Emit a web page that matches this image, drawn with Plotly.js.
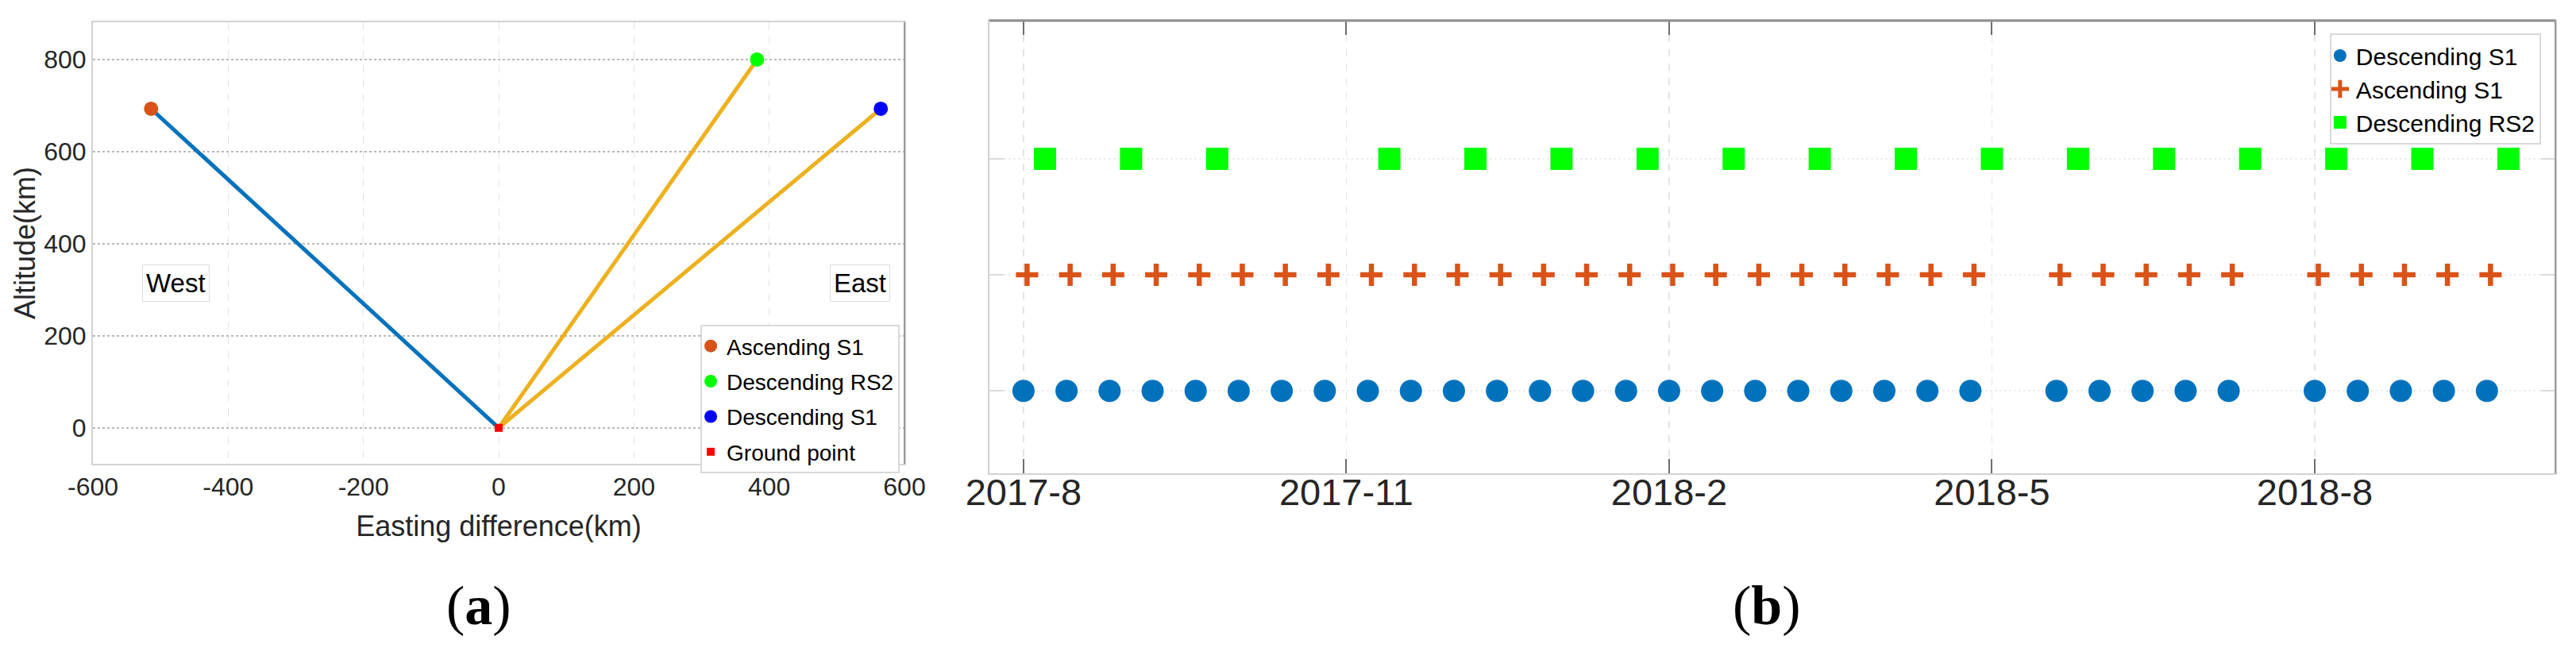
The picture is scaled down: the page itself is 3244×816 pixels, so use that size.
<!DOCTYPE html>
<html>
<head>
<meta charset="utf-8">
<script src="https://cdn.plot.ly/plotly-3.0.1.min.js"></script>
<style>
  html, body { margin: 0; padding: 0; background: #ffffff; }
  #chart { width: 3244px; height: 816px; }
</style>
</head>
<body>
<div id="chart"></div>
<script>
// ---------- Panel (a): imaging geometry ----------
const satNames = ['Ascending S1', 'Descending RS2', 'Descending S1'];
const satEasting = [-514, 382, 565];      // km
const satAltitude = [693, 800, 693];      // km
const satColors = ['#D95319', '#00FF00', '#0000FF'];
const groundName = 'Ground point';
const groundEasting = [0];
const groundAltitude = [0];
const eastingTicks = [-600, -400, -200, 0, 200, 400, 600];
const altitudeTicks = [0, 200, 400, 600, 800];

// ---------- Panel (b): acquisition dates ----------
const descS1Dates = ['2017-08-01','2017-08-13','2017-08-25','2017-09-06','2017-09-18','2017-09-30','2017-10-12','2017-10-24',
  '2017-11-05','2017-11-17','2017-11-29','2017-12-11','2017-12-23','2018-01-04','2018-01-16','2018-01-28','2018-02-09',
  '2018-02-21','2018-03-05','2018-03-17','2018-03-29','2018-04-10','2018-04-22',
  '2018-05-16','2018-05-28','2018-06-09','2018-06-21','2018-07-03',
  '2018-07-27','2018-08-08','2018-08-20','2018-09-01','2018-09-13'];
const ascS1Dates = ['2017-08-02','2017-08-14','2017-08-26','2017-09-07','2017-09-19','2017-10-01','2017-10-13','2017-10-25',
  '2017-11-06','2017-11-18','2017-11-30','2017-12-12','2017-12-24','2018-01-05','2018-01-17','2018-01-29','2018-02-10',
  '2018-02-22','2018-03-06','2018-03-18','2018-03-30','2018-04-11','2018-04-23',
  '2018-05-17','2018-05-29','2018-06-10','2018-06-22','2018-07-04',
  '2018-07-28','2018-08-09','2018-08-21','2018-09-02','2018-09-14'];
const rs2Dates = ['2017-08-07','2017-08-31','2017-09-24','2017-11-11','2017-12-05','2017-12-29','2018-01-22','2018-02-15',
  '2018-03-11','2018-04-04','2018-04-28','2018-05-22','2018-06-15','2018-07-09','2018-08-02','2018-08-26','2018-09-19'];
const trackNames = ['Descending S1', 'Ascending S1', 'Descending RS2'];
const trackLevels = [1, 2, 3];
const timeTickDates = ['2017-08-01', '2017-10-30', '2018-01-28', '2018-04-28', '2018-07-27'];
const timeTickLabels = ['2017-8', '2017-11', '2018-2', '2018-5', '2018-8'];

const FONT = '"Liberation Sans", Arial, Helvetica, sans-serif';
const SERIF = '"Liberation Serif", "Times New Roman", serif';
const TXT = '#262626';

const traces = [];
// lines of sight
traces.push({
  x: [satEasting[0], groundEasting[0]], y: [satAltitude[0], groundAltitude[0]],
  xaxis: 'x', yaxis: 'y', mode: 'lines', showlegend: false, hoverinfo: 'skip',
  line: { color: '#0072BD', width: 5 }
});
traces.push({
  x: [groundEasting[0], satEasting[1], null, groundEasting[0], satEasting[2]],
  y: [groundAltitude[0], satAltitude[1], null, groundAltitude[0], satAltitude[2]],
  xaxis: 'x', yaxis: 'y', mode: 'lines', showlegend: false, hoverinfo: 'skip',
  line: { color: '#EDB120', width: 5 }
});
satNames.forEach((name, i) => {
  traces.push({
    x: [satEasting[i]], y: [satAltitude[i]], name: name,
    xaxis: 'x', yaxis: 'y', mode: 'markers', legend: 'legend', legendgroup: 'a' + i,
    marker: { color: satColors[i], size: 18, symbol: 'circle' }
  });
});
traces.push({
  x: groundEasting, y: groundAltitude, name: groundName,
  xaxis: 'x', yaxis: 'y', mode: 'markers', legend: 'legend', legendgroup: 'a3',
  marker: { color: '#FF0000', size: 10, symbol: 'square' }
});

// panel b
traces.push({
  x: descS1Dates, y: descS1Dates.map(() => trackLevels[0]), name: trackNames[0],
  xaxis: 'x2', yaxis: 'y2', mode: 'markers', legend: 'legend2',
  marker: { color: '#0072BD', size: 28, symbol: 'circle' }
});
traces.push({
  x: ascS1Dates, y: ascS1Dates.map(() => trackLevels[1]), name: trackNames[1],
  xaxis: 'x2', yaxis: 'y2', mode: 'markers', legend: 'legend2',
  marker: { color: '#D95319', size: 20, symbol: 'cross-thin-open', line: { color: '#D95319', width: 6.5 } }
});
traces.push({
  x: rs2Dates, y: rs2Dates.map(() => trackLevels[2]), name: trackNames[2],
  xaxis: 'x2', yaxis: 'y2', mode: 'markers', legend: 'legend2',
  marker: { color: '#00FF00', size: 28, symbol: 'square' }
});

const layout = {
  width: 3244, height: 816, autosize: false,
  margin: { l: 0, r: 0, t: 0, b: 0 },
  paper_bgcolor: '#ffffff', plot_bgcolor: '#ffffff',
  font: { family: FONT, color: TXT },
  xaxis: {
    domain: [0.03607, 0.35111], anchor: 'y',
    range: [-600, 600], tickvals: eastingTicks, ticktext: eastingTicks.map(String),
    showgrid: true, gridcolor: '#e2e2e2', griddash: 'dash', gridwidth: 1,
    zeroline: false, showline: true, linecolor: '#d2d2d2', linewidth: 2, mirror: true,
    ticks: '', tickfont: { size: 32, color: TXT, family: FONT },
    title: { text: 'Easting difference(km)', font: { size: 36, color: TXT, family: FONT }, standoff: 19 }
  },
  yaxis: {
    domain: [0.2843, 0.9657], anchor: 'x',
    range: [-78, 881], tickvals: altitudeTicks,
    showgrid: true, gridcolor: '#b8b8b8', griddash: 'dot', gridwidth: 1.5,
    zeroline: false, showline: true, linecolor: '#d2d2d2', linewidth: 2, mirror: true,
    ticks: '', tickfont: { size: 32, color: TXT, family: FONT },
    title: { text: 'Altitude(km)', font: { size: 36, color: TXT, family: FONT }, standoff: 0 }
  },
  xaxis2: {
    domain: [0.38409, 0.99199], anchor: 'y2', type: 'date',
    range: ['2017-07-22 12:00', '2018-10-02 02:00'],
    tickvals: timeTickDates, ticktext: timeTickLabels,
    showgrid: true, gridcolor: '#e4e4e4', griddash: 'dash', gridwidth: 1.5,
    zeroline: false, showline: true, linecolor: '#d2d2d2', linewidth: 2, mirror: 'allticks',
    ticks: 'inside', ticklen: 18, tickwidth: 2, tickcolor: '#6e6e6e',
    ticklabelstandoff: -18,
    tickfont: { size: 47, color: TXT, family: FONT }
  },
  yaxis2: {
    domain: [0.2696, 0.9681], anchor: 'x2',
    range: [0.29, 4.19], tickvals: trackLevels, showticklabels: false,
    showgrid: true, gridcolor: '#eeeeee', griddash: 'dot', gridwidth: 1.5,
    zeroline: false, showline: true, linecolor: '#d2d2d2', linewidth: 2, mirror: 'allticks',
    ticks: 'inside', ticklen: 18, tickwidth: 2, tickcolor: '#dadada'
  },
  legend: {
    x: 0.2719, y: 0.4988, xanchor: 'left', yanchor: 'top',
    bgcolor: '#ffffff', bordercolor: '#d9d9d9', borderwidth: 2,
    font: { size: 28, color: '#000000', family: FONT },
    tracegroupgap: 5, indentation: -9, itemwidth: 30
  },
  legend2: {
    x: 0.9044, y: 0.9485, xanchor: 'left', yanchor: 'top',
    bgcolor: '#ffffff', bordercolor: '#d9d9d9', borderwidth: 2,
    font: { size: 30, color: '#000000', family: FONT },
    indentation: -9, itemwidth: 30
  },
  shapes: [
    { type: 'line', xref: 'x domain', yref: 'y domain', x0: 1, x1: 1, y0: 0, y1: 1,
      line: { color: '#9a9a9a', width: 2 } },
    { type: 'line', xref: 'x2 domain', yref: 'y2 domain', x0: 0, x1: 1, y0: 1, y1: 1,
      line: { color: '#8f8f8f', width: 3 } },
    { type: 'line', xref: 'x2 domain', yref: 'y2 domain', x0: 1, x1: 1, y0: 0, y1: 1,
      line: { color: '#9a9a9a', width: 2 } }
  ],
  annotations: [
    { text: 'West', x: -477, y: 314, xref: 'x', yref: 'y', showarrow: false,
      font: { size: 33, color: '#000000', family: FONT },
      bordercolor: '#dcdcdc', borderwidth: 1, borderpad: 4 },
    { text: 'East', x: 534, y: 314, xref: 'x', yref: 'y', showarrow: false,
      font: { size: 33, color: '#000000', family: FONT },
      bordercolor: '#dcdcdc', borderwidth: 1, borderpad: 4 },
    { text: '(<b>a</b>)', x: 0.1859, y: 0.065, xref: 'paper', yref: 'paper', showarrow: false,
      xanchor: 'center', yanchor: 'middle',
      font: { size: 70, color: '#000000', family: SERIF } },
    { text: '(<b>b</b>)', x: 0.6859, y: 0.065, xref: 'paper', yref: 'paper', showarrow: false,
      xanchor: 'center', yanchor: 'middle',
      font: { size: 70, color: '#000000', family: SERIF } }
  ]
};

Plotly.newPlot('chart', traces, layout, { displayModeBar: false, staticPlot: true });
</script>
</body>
</html>
